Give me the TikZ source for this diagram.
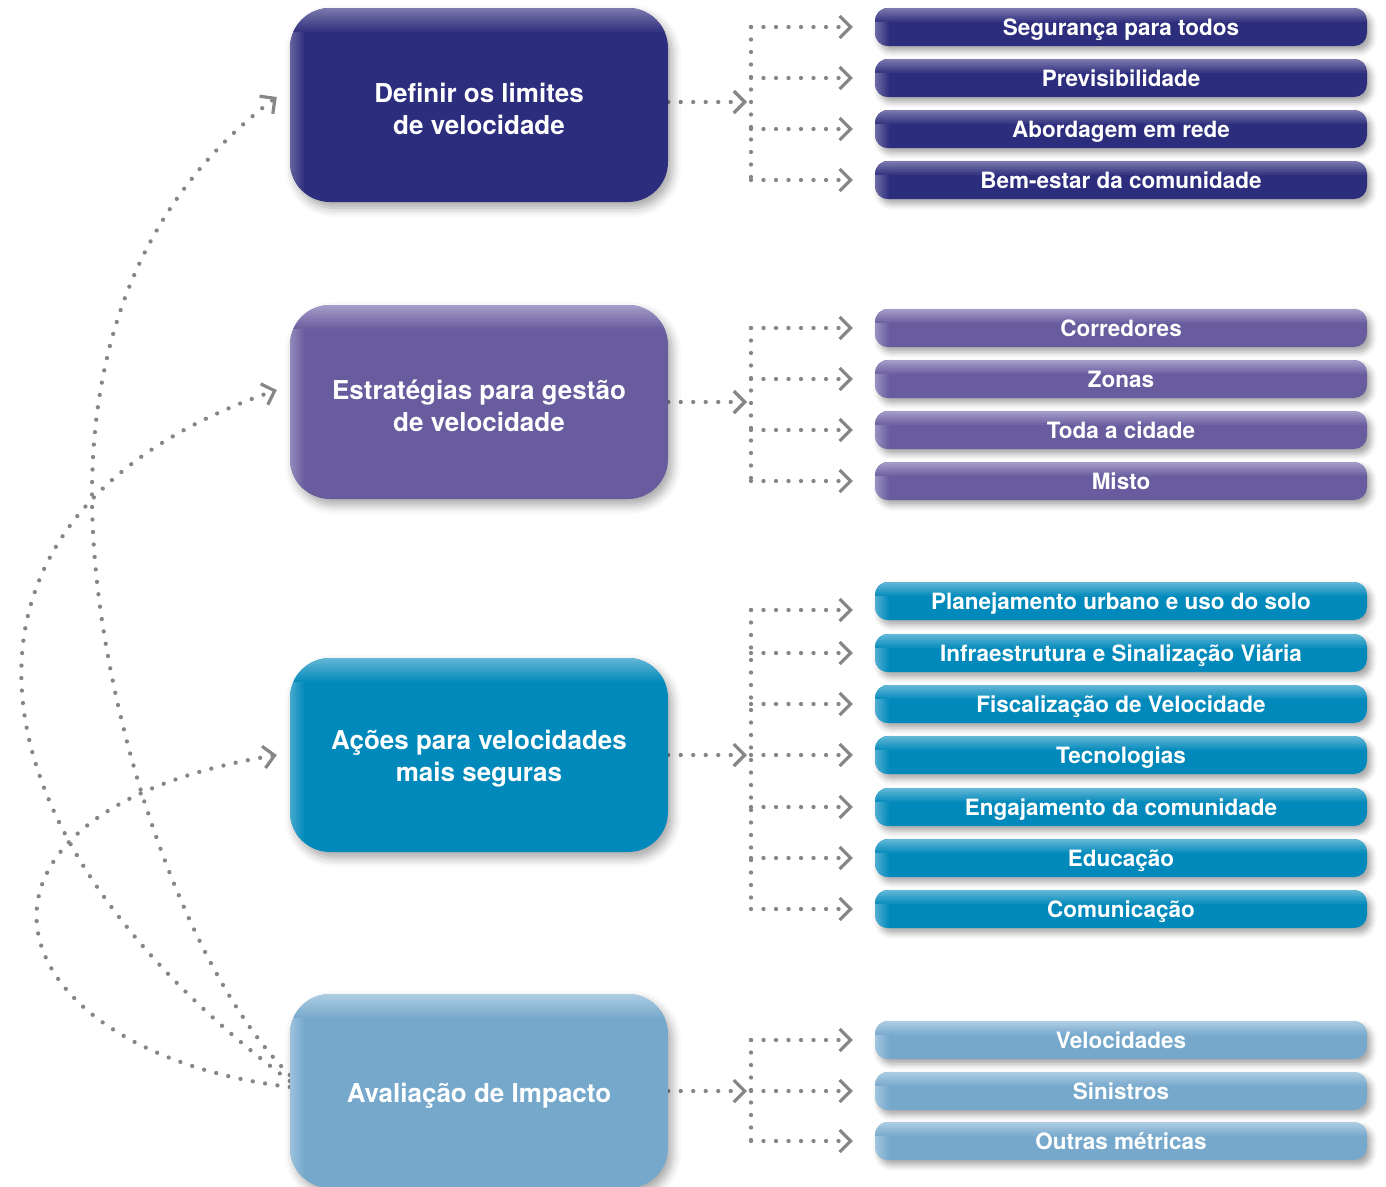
\documentclass[tikz,border=0pt]{standalone}
\usepackage{fontspec}
\setmainfont{TeX Gyre Heros}
\usetikzlibrary{arrows.meta,shadows.blur}
\definecolor{cA}{HTML}{2D2D7D}\definecolor{cAl}{HTML}{7A78AC}
\definecolor{cB}{HTML}{685B9E}\definecolor{cBl}{HTML}{A49CC8}
\definecolor{cC}{HTML}{0089BA}\definecolor{cCl}{HTML}{62B6D6}
\definecolor{cD}{HTML}{76A8CC}\definecolor{cDl}{HTML}{ABCCE2}
\definecolor{dotgray}{HTML}{868686}
\pgfdeclarelayer{bg}\pgfsetlayers{bg,main}
\tikzset{
  mainbox/.style 2 args={fill=#1, text=white, align=center,
    font=\bfseries\fontsize{26}{32}\selectfont,
    minimum width=378pt, minimum height=194pt, inner sep=0pt, rounded corners=40pt,
    blur shadow={shadow xshift=4pt, shadow yshift=-6pt, shadow blur radius=9pt, shadow opacity=35},
    path picture={
      \foreach \i in {0,...,6} {\pgfmathsetmacro\pp{70-\i*10}
        \fill[sharp corners,#2!\pp!#1] ([xshift=\i*2pt]path picture bounding box.north west) rectangle ([xshift=\i*2pt+2.3pt]path picture bounding box.south west);}
      \foreach \i in {0,...,11} {\pgfmathsetmacro\pp{100-\i*100/12}
        \fill[sharp corners,#2!\pp!#1] ([yshift=-\i*2pt]path picture bounding box.north west) rectangle ([yshift=-\i*2pt-2.3pt]path picture bounding box.north east);}
    }},
  mainlbl/.style={text=white, align=center, font=\bfseries\fontsize{26}{32}\selectfont, inner sep=0pt},
  subbox/.style 2 args={fill=#1, text=white, align=center,
    font=\bfseries\fontsize{22.5}{27}\selectfont, text height=16pt, text depth=0pt,
    minimum width=492pt, minimum height=38pt, inner sep=0pt, rounded corners=13pt,
    blur shadow={shadow xshift=4pt, shadow yshift=-5pt, shadow blur radius=6pt, shadow opacity=35},
    path picture={
      \foreach \i in {0,...,6} {\pgfmathsetmacro\pp{80-\i*80/7}
        \fill[sharp corners,#2!\pp!#1] ([xshift=\i*2pt]path picture bounding box.north west) rectangle ([xshift=\i*2pt+2.3pt]path picture bounding box.south west);}
      \foreach \i in {0,...,6} {\pgfmathsetmacro\pp{100-\i*100/7}
        \fill[sharp corners,#2!\pp!#1] ([yshift=-\i*2pt]path picture bounding box.north west) rectangle ([yshift=-\i*2pt-2.3pt]path picture bounding box.north east);}
    }},
  conn/.style={draw=dotgray, line width=4.3pt, line cap=round, dash pattern=on 0pt off 12.5pt},
  tip/.style={-{Straight Barb[length=11pt,width=22pt,line width=3.2pt,color=dotgray]}},
}
\begin{document}
\begin{tikzpicture}[x=1pt,y=1pt]
\useasboundingbox (0,0) rectangle (1386,-1186);

% main boxes
\node[mainbox={cA}{cAl}, label={[mainlbl,yshift=-4pt]center:{Definir os limites\\de velocidade}}] (m1) at (479,-105) {};
\node[mainbox={cB}{cBl}, label={[mainlbl,yshift=-4pt]center:{Estratégias para gestão\\de velocidade}}] (m2) at (479,-402) {};
\node[mainbox={cC}{cCl}, label={[mainlbl,yshift=-4pt]center:{Ações para velocidades\\mais seguras}}] (m3) at (479,-755) {};
\node[mainbox={cD}{cDl}, label={[mainlbl,yshift=-5pt]center:{Avaliação de Impacto}}] (m4) at (479,-1091) {};

% sub boxes
\node[subbox={cA}{cAl}] (s11) at (1121,-27) {Segurança para todos};
\node[subbox={cA}{cAl}] (s12) at (1121,-78) {Previsibilidade};
\node[subbox={cA}{cAl}] (s13) at (1121,-129) {Abordagem em rede};
\node[subbox={cA}{cAl}] (s14) at (1121,-180) {Bem-estar da comunidade};

\node[subbox={cB}{cBl}] (s21) at (1121,-328) {Corredores};
\node[subbox={cB}{cBl}] (s22) at (1121,-379) {Zonas};
\node[subbox={cB}{cBl}] (s23) at (1121,-430) {Toda a cidade};
\node[subbox={cB}{cBl}] (s24) at (1121,-481) {Misto};

\node[subbox={cC}{cCl}] (s31) at (1121,-601) {Planejamento urbano e uso do solo};
\node[subbox={cC}{cCl}] (s32) at (1121,-653) {Infraestrutura e Sinalização Viária};
\node[subbox={cC}{cCl}] (s33) at (1121,-704) {Fiscalização de Velocidade};
\node[subbox={cC}{cCl}] (s34) at (1121,-755) {Tecnologias};
\node[subbox={cC}{cCl}] (s35) at (1121,-807) {Engajamento da comunidade};
\node[subbox={cC}{cCl}] (s36) at (1121,-858) {Educação};
\node[subbox={cC}{cCl}] (s37) at (1121,-909) {Comunicação};

\node[subbox={cD}{cDl}] (s41) at (1121,-1040) {Velocidades};
\node[subbox={cD}{cDl}] (s42) at (1121,-1091) {Sinistros};
\node[subbox={cD}{cDl}] (s43) at (1121,-1141) {Outras métricas};

\coordinate (jx) at (751,0);
\coordinate (cm) at (92,-495);
\coordinate (t1) at ([yshift=3pt]m1.east);
\coordinate (e31) at ([yshift=-9pt]s31.west);

\begin{pgfonlayer}{bg}
% group 1
\draw[conn,tip,shorten >=4pt] (t1) -- (jx |- t1);
\draw[conn] (jx |- s11.west) -- (jx |- s14.west);
\foreach \s in {s11,s12,s13,s14} {\draw[conn,tip,shorten >=22pt] (jx |- \s.west) -- (\s.west);}
% group 2
\draw[conn,tip,shorten >=4pt] (m2.east) -- (jx |- m2.east);
\draw[conn] (jx |- s21.west) -- (jx |- s24.west);
\foreach \s in {s21,s22,s23,s24} {\draw[conn,tip,shorten >=22pt] (jx |- \s.west) -- (\s.west);}
% group 3
\draw[conn,tip,shorten >=4pt] (m3.east) -- (jx |- m3.east);
\draw[conn] (jx |- e31) -- (jx |- s37.west);
\draw[conn,tip,shorten >=22pt] (jx |- e31) -- (e31);
\foreach \s in {s32,s33,s34,s35,s36,s37} {\draw[conn,tip,shorten >=22pt] (jx |- \s.west) -- (\s.west);}
% group 4
\draw[conn,tip,shorten >=4pt] (m4.east) -- (jx |- m4.east);
\draw[conn] (jx |- s41.west) -- (jx |- s43.west);
\foreach \s in {s41,s42,s43} {\draw[conn,tip,shorten >=22pt] (jx |- \s.west) -- (\s.west);}

% feedback curves
\draw[conn,tip] ([yshift=16pt]m4.west) .. controls (182,-969) and (92,-695) .. (cm)
   .. controls (92,-325) and (153,-190) .. ([xshift=-13pt,yshift=8pt]m1.west);
\draw[conn,tip] ([yshift=10pt]m4.west) .. controls (-50,-826) and (-80,-512) .. ([xshift=-13pt,yshift=12pt]m2.west);
\draw[conn,tip] ([yshift=4pt]m4.west) .. controls (-14,-1050) and (-74,-812) .. ([xshift=-13pt]m3.west);
\end{pgfonlayer}
\end{tikzpicture}
\end{document}
